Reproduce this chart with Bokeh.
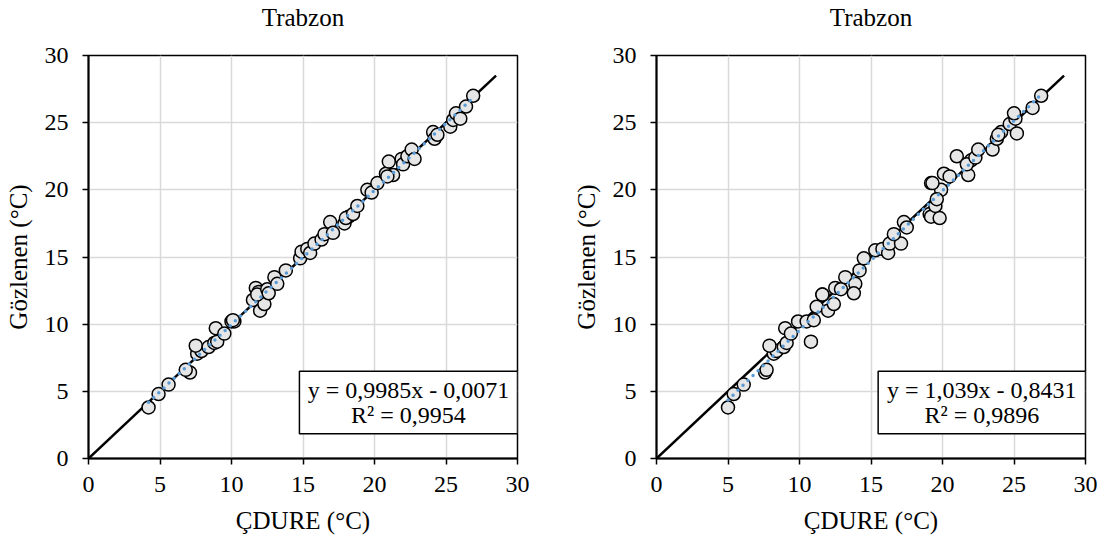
from bokeh.plotting import figure
from bokeh.layouts import row
from bokeh.models import Range1d, FixedTicker, BoxAnnotation, Label, LinearAxis
from bokeh.embed import file_html
from bokeh.resources import INLINE

TITLE = "Trabzon"
X_LABEL = "ÇDURE (°C)"
Y_LABEL = "Gözlenen (°C)"
TICKS = [0, 5, 10, 15, 20, 25, 30]
LINE_1TO1 = [0, 28.5]

# left panel
LEFT_X = [4.2, 4.9, 5.6, 7.1, 6.8, 7.6, 7.9, 7.5, 8.4, 8.8, 9.0, 8.9, 9.5, 10.0, 10.2,
          10.1, 11.5, 11.7, 11.9, 12.0, 12.3, 11.8, 12.5, 13.0, 13.2, 12.6, 13.8, 14.8,
          14.9, 15.3, 15.5, 15.8, 16.3, 16.5, 16.9, 17.1, 17.9, 18.2, 18.0, 18.5, 18.8,
          19.5, 19.8, 20.2, 20.8, 21.0, 21.3, 20.9, 21.9, 22.0, 22.3, 22.6, 22.8, 24.1,
          24.2, 24.4, 25.3, 25.5, 25.7, 26.0, 26.4, 26.9]
LEFT_Y = [3.8, 4.8, 5.5, 6.4, 6.6, 7.8, 8.0, 8.4, 8.3, 8.6, 8.7, 9.7, 9.3, 10.2, 10.2,
          10.3, 11.8, 12.7, 12.4, 11.0, 11.5, 12.2, 12.6, 13.5, 13.0, 12.3, 14.0, 14.9,
          15.4, 15.6, 15.3, 16.0, 16.3, 16.7, 17.6, 16.8, 17.5, 18.0, 17.9, 18.2, 18.8,
          20.0, 19.8, 20.5, 21.2, 22.1, 21.1, 21.0, 22.3, 21.9, 22.5, 23.0, 22.3, 24.3,
          23.8, 24.1, 24.7, 25.2, 25.7, 25.3, 26.2, 27.0]
LEFT_SLOPE, LEFT_INTERCEPT = 0.9985, -0.0071
LEFT_EQ = ["y = 0,9985x - 0,0071", "R² = 0,9954"]

# right panel
RIGHT_X = [5.0, 5.4, 6.1, 7.6, 7.7, 8.2, 8.4, 7.9, 8.9, 9.1, 10.8, 9.0, 9.4, 9.9, 10.5,
           11.0, 11.2, 12.5, 11.6, 12.0, 12.4, 11.6, 12.9, 13.2, 13.9, 13.8, 14.2, 14.5,
           15.3, 15.8, 16.2, 16.3, 17.1, 16.6, 17.3, 17.5, 19.1, 19.2, 19.8, 19.2, 19.5,
           19.9, 19.6, 19.3, 20.1, 21.0, 21.8, 20.5, 22.0, 21.7, 22.3, 22.5, 23.5, 24.1,
           23.8, 23.9, 24.7, 25.1, 25.0, 25.2, 26.3, 26.9]
RIGHT_Y = [3.8, 4.8, 5.5, 6.4, 6.6, 7.8, 8.0, 8.4, 8.3, 8.6, 8.7, 9.7, 9.3, 10.2, 10.2,
           10.3, 11.3, 12.7, 12.2, 11.0, 11.5, 12.2, 12.6, 13.5, 13.0, 12.3, 14.0, 14.9,
           15.5, 15.6, 15.3, 16.0, 16.0, 16.7, 17.6, 17.2, 18.2, 18.0, 17.9, 20.5, 18.8,
           20.0, 19.3, 20.5, 21.2, 22.5, 21.1, 21.0, 22.2, 21.9, 22.4, 23.0, 23.0, 24.3,
           23.8, 24.1, 24.9, 25.3, 25.7, 24.2, 26.1, 27.0]
RIGHT_SLOPE, RIGHT_INTERCEPT = 1.039, -0.8431
RIGHT_EQ = ["y = 1,039x - 0,8431", "R² = 0,9896"]

FONT = "Liberation Serif"


def make_panel(xs, ys, slope, intercept, eq, border_left, border_right, box_left):
    p = figure(frame_width=429, frame_height=403,
               min_border_left=border_left, min_border_right=border_right,
               min_border_top=55, min_border_bottom=86,
               x_range=Range1d(0, 30), y_range=Range1d(0, 30),
               output_backend="svg", toolbar_location=None,
               background_fill_color="white", border_fill_color="white")

    p.outline_line_color = "black"
    p.outline_line_width = 1.5
    p.outline_line_alpha = 1

    for ax in (p.xaxis[0], p.yaxis[0]):
        ax.ticker = FixedTicker(ticks=TICKS)
        ax.minor_tick_line_color = None
        ax.major_tick_in = 0
        ax.major_tick_out = 6
        ax.major_tick_line_width = 1.5
        ax.major_tick_line_color = "black"
        ax.axis_line_width = 2
        ax.axis_line_color = "black"
        ax.major_label_text_font = FONT
        ax.major_label_text_font_size = "24px"
        ax.major_label_text_color = "black"
        ax.axis_label_text_font = FONT
        ax.axis_label_text_font_size = "25px"
        ax.axis_label_text_font_style = "normal"
        ax.axis_label_text_color = "black"
    p.xaxis.axis_label = X_LABEL
    p.yaxis.axis_label = Y_LABEL
    p.xaxis.major_label_standoff = 12
    p.xaxis.axis_label_standoff = 12
    p.yaxis.major_label_standoff = 14
    p.yaxis.axis_label_standoff = 10

    # title drawn as the label of an empty axis above the frame
    top = LinearAxis(ticker=FixedTicker(ticks=[]), axis_line_color=None,
                     major_tick_line_color=None, minor_tick_line_color=None,
                     axis_label=TITLE, axis_label_text_font=FONT,
                     axis_label_text_font_size="25px", axis_label_text_font_style="normal",
                     axis_label_text_color="black", axis_label_standoff=25,
                     major_label_text_font_size="0px")
    p.add_layout(top, "above")

    for g in (p.xgrid[0], p.ygrid[0]):
        g.ticker = FixedTicker(ticks=TICKS)
        g.grid_line_color = "#d9d9d9"
        g.grid_line_width = 1.5

    p.line(LINE_1TO1, LINE_1TO1, line_color="black", line_width=2.5)
    p.scatter(xs, ys, size=13, fill_color="#e6e6e6", line_color="black", line_width=1.5)
    tx = [min(xs), max(xs)]
    ty = [slope * v + intercept for v in tx]
    p.line(tx, ty, line_color="#5b9bd5", line_width=3.5, line_dash="0 7", line_cap="round")

    p.add_layout(BoxAnnotation(left=box_left, right=30, bottom=1.85, top=6.5,
                               fill_color="white", fill_alpha=1,
                               line_color="black", line_width=1.5, line_alpha=1))
    cx = (box_left + 30) / 2
    for txt, yy in zip(eq, [5.1, 3.25]):
        p.add_layout(Label(x=cx, y=yy, text=txt, text_align="center", text_baseline="middle",
                           text_font=FONT, text_font_size="24px", text_color="black"))
    return p


p1 = make_panel(LEFT_X, LEFT_Y, LEFT_SLOPE, LEFT_INTERCEPT, LEFT_EQ, 88, 35, 14.75)
p2 = make_panel(RIGHT_X, RIGHT_Y, RIGHT_SLOPE, RIGHT_INTERCEPT, RIGHT_EQ, 104, 20, 15.5)
layout = row(p1, p2)

open("out.html", "w").write(file_html(layout, INLINE))
